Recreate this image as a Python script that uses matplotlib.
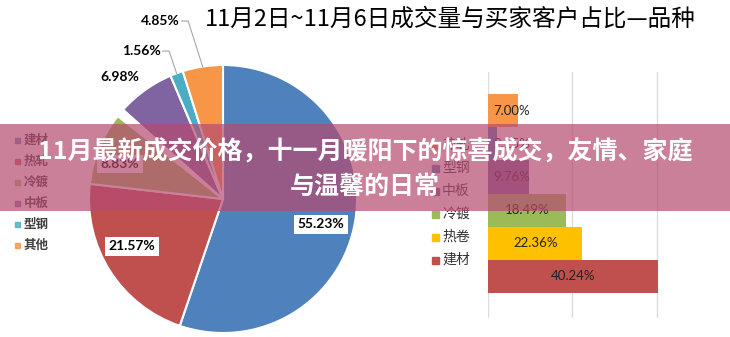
import numpy as np
import matplotlib
matplotlib.use('Agg')
import matplotlib.pyplot as plt
from matplotlib.patches import Rectangle

CJK = ['Noto Sans CJK SC', 'DejaVu Sans']
plt.rcParams['font.family'] = CJK

# --- data
title = '11月2日~11月6日成交量与买家客户占比—品种'
banner = ['11月最新成交价格，十一月暖阳下的惊喜成交，友情、家庭', '与温馨的日常']

pie_names = ['建材', '热轧', '冷镀', '中板', '型钢', '其他']
pie_vals = [55.23, 21.57, 8.83, 6.98, 1.56, 4.85]
pie_colors = ['#4F81BD', '#C0504D', '#9BBB59', '#8064A2', '#4BACC6', '#F79646']

# bar chart, listed bottom to top
bar_names = ['建材', '热卷', '冷镀', '中板', '型钢', '热轧']
bar_vals = [40.24, 22.36, 18.49, 9.76, 2.15, 7.00]
bar_colors = ['#C0504D', '#FFC000', '#9BBB59', '#8064A2', '#4F81BD', '#F79646']

W, H = 730, 337
fig = plt.figure(figsize=(W / 100, H / 100), dpi=100)

# --- pie
cx, cy, R = 223, 199, 134
ax = fig.add_axes([(cx - R) / W, (H - cy - R) / H, 2 * R / W, 2 * R / H])
rest = 100 - sum(pie_vals)
vals = pie_vals[:3] + [rest] + pie_vals[3:]
cols = pie_colors[:3] + ['white'] + pie_colors[3:]
wedges, _ = ax.pie(vals, colors=cols, startangle=90, counterclock=False,
                   wedgeprops=dict(edgecolor='white', linewidth=1.5))
wedges = wedges[:3] + wedges[4:]
ax.set_xlim(-1, 1)
ax.set_ylim(-1, 1)
ax.set_aspect('equal')

# label positions (fraction of radius), one per slice
lab_pos = [(0.731, -0.187), (-0.679, -0.351), (-0.769, 0.261),
           (-0.769, 0.910), (-0.612, 1.104), (-0.470, 1.328)]
boxed = [True, True, True, False, False, False]
for w, v, (lx, ly), b in zip(wedges, pie_vals, lab_pos, boxed):
    kw = dict(ha='center', va='center', fontsize=10, fontweight='bold',
              family=['Lato', 'DejaVu Sans'], color='black')
    if b:
        kw['bbox'] = dict(facecolor='white', edgecolor='none', pad=2.5)
    ax.text(lx, ly, '%.2f%%' % v, **kw)
    if ly > 1.0:
        mid = np.deg2rad((w.theta1 + w.theta2) / 2)
        ex, ey = np.cos(mid), np.sin(mid)
        x0 = lx + 0.16
        ax.plot([x0, x0 + 0.05, ex], [ly, ly, ey], color='#a6a6a6',
                lw=0.8, clip_on=False)

# --- bars
bax = fig.add_axes([488 / W, 19 / H, 190 / W, 246 / H])
pos = np.arange(len(bar_vals))
bax.barh(pos, bar_vals, height=1.0, color=bar_colors, zorder=2)
bax.set_xlim(0, 45)
bax.set_ylim(-1.26, 6.17)
bax.set_xticks([0, 20, 40])
bax.set_yticks([])
bax.tick_params(length=0, labelbottom=False)
bax.grid(axis='x', color='#dcdcdc', lw=1, zorder=0)
for s in bax.spines.values():
    s.set_visible(False)
for p, v in zip(pos, bar_vals):
    bax.text(max(v / 2, 5.6), p, '%.2f%%' % v, ha='center', va='center',
             fontsize=9.5, color='#222222', family=['Lato', 'DejaVu Sans'], zorder=3)

# --- overlay layer in pixel coordinates
ov = fig.add_axes([0, 0, 1, 1], zorder=10)
ov.set_xlim(0, W)
ov.set_ylim(H, 0)
ov.axis('off')
ov.patch.set_alpha(0)

ov.text(450, 19, title, ha='center', va='center', fontsize=17, color='black')

# pie legend
for i, (n, c) in enumerate(zip(pie_names, pie_colors)):
    y = 140 + i * 21
    ov.add_patch(Rectangle((15, y - 2.5), 5, 5, color=c, alpha=0.8, zorder=1))
    ov.text(24, y, n, ha='left', va='center', fontsize=9, fontweight='bold',
            color='#404040', zorder=1)

# bar legend
for i, (n, c) in enumerate(zip(bar_names, bar_colors)):
    y = 260 - i * 23
    ov.add_patch(Rectangle((432, y - 3.5), 7, 7, color=c, zorder=1))
    ov.text(442, y, n, ha='left', va='center', fontsize=10, color='#333333', zorder=1)

# banner
ov.add_patch(Rectangle((0, 124), W, 87, facecolor=(182 / 255, 74 / 255, 112 / 255),
                       alpha=0.7, edgecolor='none', zorder=5))
ov.text(365, 152, banner[0], ha='center', va='center', fontsize=18,
        fontweight='bold', color='white', zorder=6)
ov.text(365, 187, banner[1], ha='center', va='center', fontsize=18,
        fontweight='bold', color='white', zorder=6)

fig.savefig('out.png', dpi=100)
